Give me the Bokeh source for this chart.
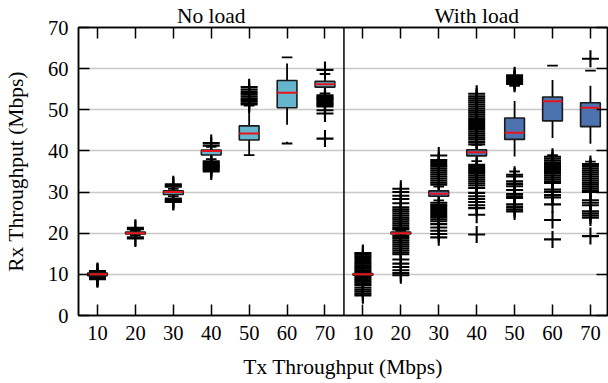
from bokeh.plotting import figure
from bokeh.models import Range1d, FixedTicker, LinearAxis, Span
from bokeh.embed import file_html
from bokeh.resources import INLINE

tx_labels = ["10", "20", "30", "40", "50", "60", "70"]
panel_titles = ["No load", "With load"]
x_title = "Tx Throughput (Mbps)"
y_title = "Rx Throughput (Mbps)"

# ---- No load ----
nl_q1 = [9.7, 19.8, 29.4, 39.0, 42.65, 50.5, 55.5]
nl_med = [10.0, 20.0, 30.0, 40.0, 44.25, 54.15, 56.2]
nl_q3 = [10.3, 20.3, 30.3, 40.2, 46.1, 57.1, 56.9]
nl_lo = [9.4, 19.5, 29.0, 38.0, 39.0, 41.8, 54.0]
nl_hi = [10.6, 20.6, 30.8, 41.0, 51.0, 62.75, 58.7]
nl_out = [
    [10.8, 10.6, 10.4, 9.6, 9.4, 9.2, 9.0, 8.8],
    [21.3, 21.0, 19.0, 18.7],
    [31.9, 31.6, 31.3, 28.4, 28.1, 27.8, 27.6],
    [41.9, 41.3, 37.5, 37.2, 36.9, 36.6, 36.3, 36.0, 35.7, 35.4, 35.0],
    [55.5, 54.9, 54.3, 53.8, 53.3, 52.8, 52.4, 52.0, 51.6, 51.3],
    [],
    [59.7, 53.5, 53.2, 52.9, 52.6, 52.3, 52.0, 51.7, 51.4, 51.1, 50.8, 49.9, 49.1, 43.0],
]

# ---- With load ----
wl_q1 = [9.8, 19.8, 29.0, 38.8, 42.8, 47.3, 45.9]
wl_med = [10.0, 20.0, 29.6, 39.7, 44.4, 52.1, 50.5]
wl_q3 = [10.2, 20.3, 30.3, 40.3, 48.0, 53.1, 51.7]
wl_lo = [9.6, 19.5, 28.0, 37.5, 35.0, 39.0, 37.4]
wl_hi = [10.4, 20.6, 31.3, 41.5, 55.8, 60.75, 59.5]
wl_out = [
    [15.2, 14.8, 14.4, 14.0, 13.5, 13.0, 12.6, 12.2, 11.8, 11.4, 11.0, 10.6,
     9.4, 9.0, 8.6, 8.2, 7.8, 7.4, 6.8, 6.3, 5.8, 5.3, 4.9],
    [30.8, 30.0, 29.1, 28.3, 27.3, 26.3, 25.8, 25.3, 24.8, 24.3, 23.8, 23.3,
     22.8, 22.3, 21.8, 21.3, 20.9, 19.3, 18.8, 18.3, 17.8, 17.3, 16.8, 16.3,
     15.8, 15.3, 14.9, 13.6, 12.6, 11.8, 11.0, 10.3, 9.8],
    [38.9, 37.8, 37.3, 36.8, 36.3, 35.8, 35.3, 34.8, 34.3, 33.8, 33.3, 32.8,
     32.3, 31.8, 27.4, 26.9, 26.4, 25.9, 25.4, 24.9, 24.4, 23.9, 23.4, 22.9,
     22.2, 21.4, 20.6, 19.8, 19.0],
    [53.9, 53.3, 52.8, 52.3, 51.8, 51.3, 50.8, 50.3, 49.8, 49.3, 48.8, 48.3,
     47.8, 47.3, 46.8, 46.3, 45.8, 45.3, 44.8, 44.3, 43.8, 43.3, 42.8, 42.2,
     41.6, 36.6, 36.1, 35.6, 35.1, 34.6, 34.1, 33.6, 33.1, 32.6, 32.1, 31.6,
     31.0, 29.8, 29.0, 28.3, 27.6, 26.8, 26.1, 24.5, 19.7],
    [58.4, 58.0, 57.6, 57.3, 57.0, 56.6, 56.3, 34.2, 33.8, 32.6, 32.0, 31.4,
     30.5, 29.5, 29.0, 28.6, 27.0, 26.4, 25.8, 25.3],
    [38.6, 38.1, 37.6, 37.1, 36.6, 36.1, 35.6, 35.1, 34.6, 34.1, 33.6, 33.1,
     32.6, 32.2, 30.6, 30.0, 29.3, 28.7, 27.0, 23.2, 18.5],
    [62.4, 36.8, 36.3, 35.8, 35.3, 34.8, 34.3, 33.8, 33.3, 32.8, 32.3, 31.8,
     31.3, 30.8, 30.3, 30.0, 28.0, 27.4, 26.8, 25.3, 24.8, 24.3, 23.8, 19.3],
]

FONT = "Liberation Serif"
BOX_W = 0.52
CAP_W = 0.28
X0, X1 = 0.5, 14.45

p = figure(width=608, height=383, output_backend="svg", toolbar_location=None,
           x_range=Range1d(X0, X1), y_range=Range1d(0, 70),
           min_border_left=74, min_border_right=1, min_border_top=25,
           min_border_bottom=68)
p.outline_line_color = "black"
p.outline_line_width = 1.5
p.background_fill_color = "white"
p.border_fill_color = "white"

xticks = list(range(1, 15))
yticks = list(range(0, 71, 10))
overrides = {i + 1: tx_labels[i] for i in range(7)}
overrides.update({i + 8: tx_labels[i] for i in range(7)})

p.xaxis.ticker = FixedTicker(ticks=xticks)
p.xaxis.major_label_overrides = overrides
p.yaxis.ticker = FixedTicker(ticks=yticks)
p.xgrid.visible = False
p.ygrid.ticker = FixedTicker(ticks=list(range(10, 70, 10)))
p.ygrid.grid_line_color = "#c8c8c8"
p.ygrid.grid_line_width = 1.3

for ax in [p.xaxis[0], p.yaxis[0]]:
    ax.major_tick_in = 11
    ax.major_tick_out = 0
    ax.minor_tick_line_color = None
    ax.axis_line_color = "black"
    ax.axis_line_width = 1.5
    ax.major_tick_line_width = 1.5
    ax.major_tick_line_color = "black"
    ax.major_label_text_font = FONT
    ax.major_label_text_font_size = "20.5px"
    ax.major_label_text_color = "black"
    ax.axis_label_text_font = FONT
    ax.axis_label_text_font_size = "21.5px"
    ax.axis_label_text_font_style = "normal"
    ax.axis_label_text_color = "black"

p.xaxis.axis_label = x_title
p.yaxis.axis_label = y_title
p.xaxis.major_label_standoff = 10
p.xaxis.axis_label_standoff = 12
p.yaxis.major_label_standoff = 10
p.yaxis.axis_label_standoff = 17

# top axis: tick marks at every category; the panel titles sit as labels
# centred over each panel
title_pos = [4, 11]
top_labels = {t: "" for t in xticks}
for pos, t in zip(title_pos, panel_titles):
    top_labels[pos] = t
top_ax = LinearAxis(ticker=FixedTicker(ticks=xticks), major_tick_in=11, major_tick_out=0,
                    minor_tick_line_color=None, axis_line_color="black", axis_line_width=1.5,
                    major_tick_line_width=1.5, major_label_standoff=0,
                    major_label_overrides=top_labels,
                    major_label_text_font=FONT, major_label_text_font_size="21.5px",
                    major_label_text_color="black")
p.add_layout(top_ax, "above")
right_ax = LinearAxis(ticker=FixedTicker(ticks=yticks), major_tick_in=11,
                      major_tick_out=0, minor_tick_line_color=None, axis_line_color="black",
                      axis_line_width=1.5, major_tick_line_width=1.5,
                      major_label_standoff=0,
                      major_label_overrides={t: "" for t in yticks})
p.add_layout(right_ax, "right")

p.add_layout(Span(location=7.5, dimension="height", line_color="black", line_width=1.5))


def draw_panel(offset, q1, med, q3, lo, hi, outs, color):
    xs = [offset + i for i in range(len(q1))]
    ox, oy = [], []
    for x, vals in zip(xs, outs):
        for v in vals:
            ox.append(x)
            oy.append(v)
    p.scatter(ox, oy, marker="cross", size=17, line_color="black", line_width=2.1)
    p.segment(xs, q3, xs, hi, line_color="black", line_width=1.8, line_dash="17 17")
    p.segment(xs, q1, xs, lo, line_color="black", line_width=1.8, line_dash="17 17")
    p.segment([x - CAP_W / 2 for x in xs], hi, [x + CAP_W / 2 for x in xs], hi,
              line_color="black", line_width=1.8)
    p.segment([x - CAP_W / 2 for x in xs], lo, [x + CAP_W / 2 for x in xs], lo,
              line_color="black", line_width=1.8)
    p.vbar(x=xs, width=BOX_W, top=q3, bottom=q1, fill_color=color,
           line_color="#1a1a1a", line_width=1.6)
    p.segment([x - BOX_W / 2 for x in xs], med, [x + BOX_W / 2 for x in xs], med,
              line_color="#e8141b", line_width=2)


draw_panel(1, nl_q1, nl_med, nl_q3, nl_lo, nl_hi, nl_out, "#64b5cd")
draw_panel(8, wl_q1, wl_med, wl_q3, wl_lo, wl_hi, wl_out, "#4c72b0")

open("out.html", "w").write(file_html(p, INLINE))
